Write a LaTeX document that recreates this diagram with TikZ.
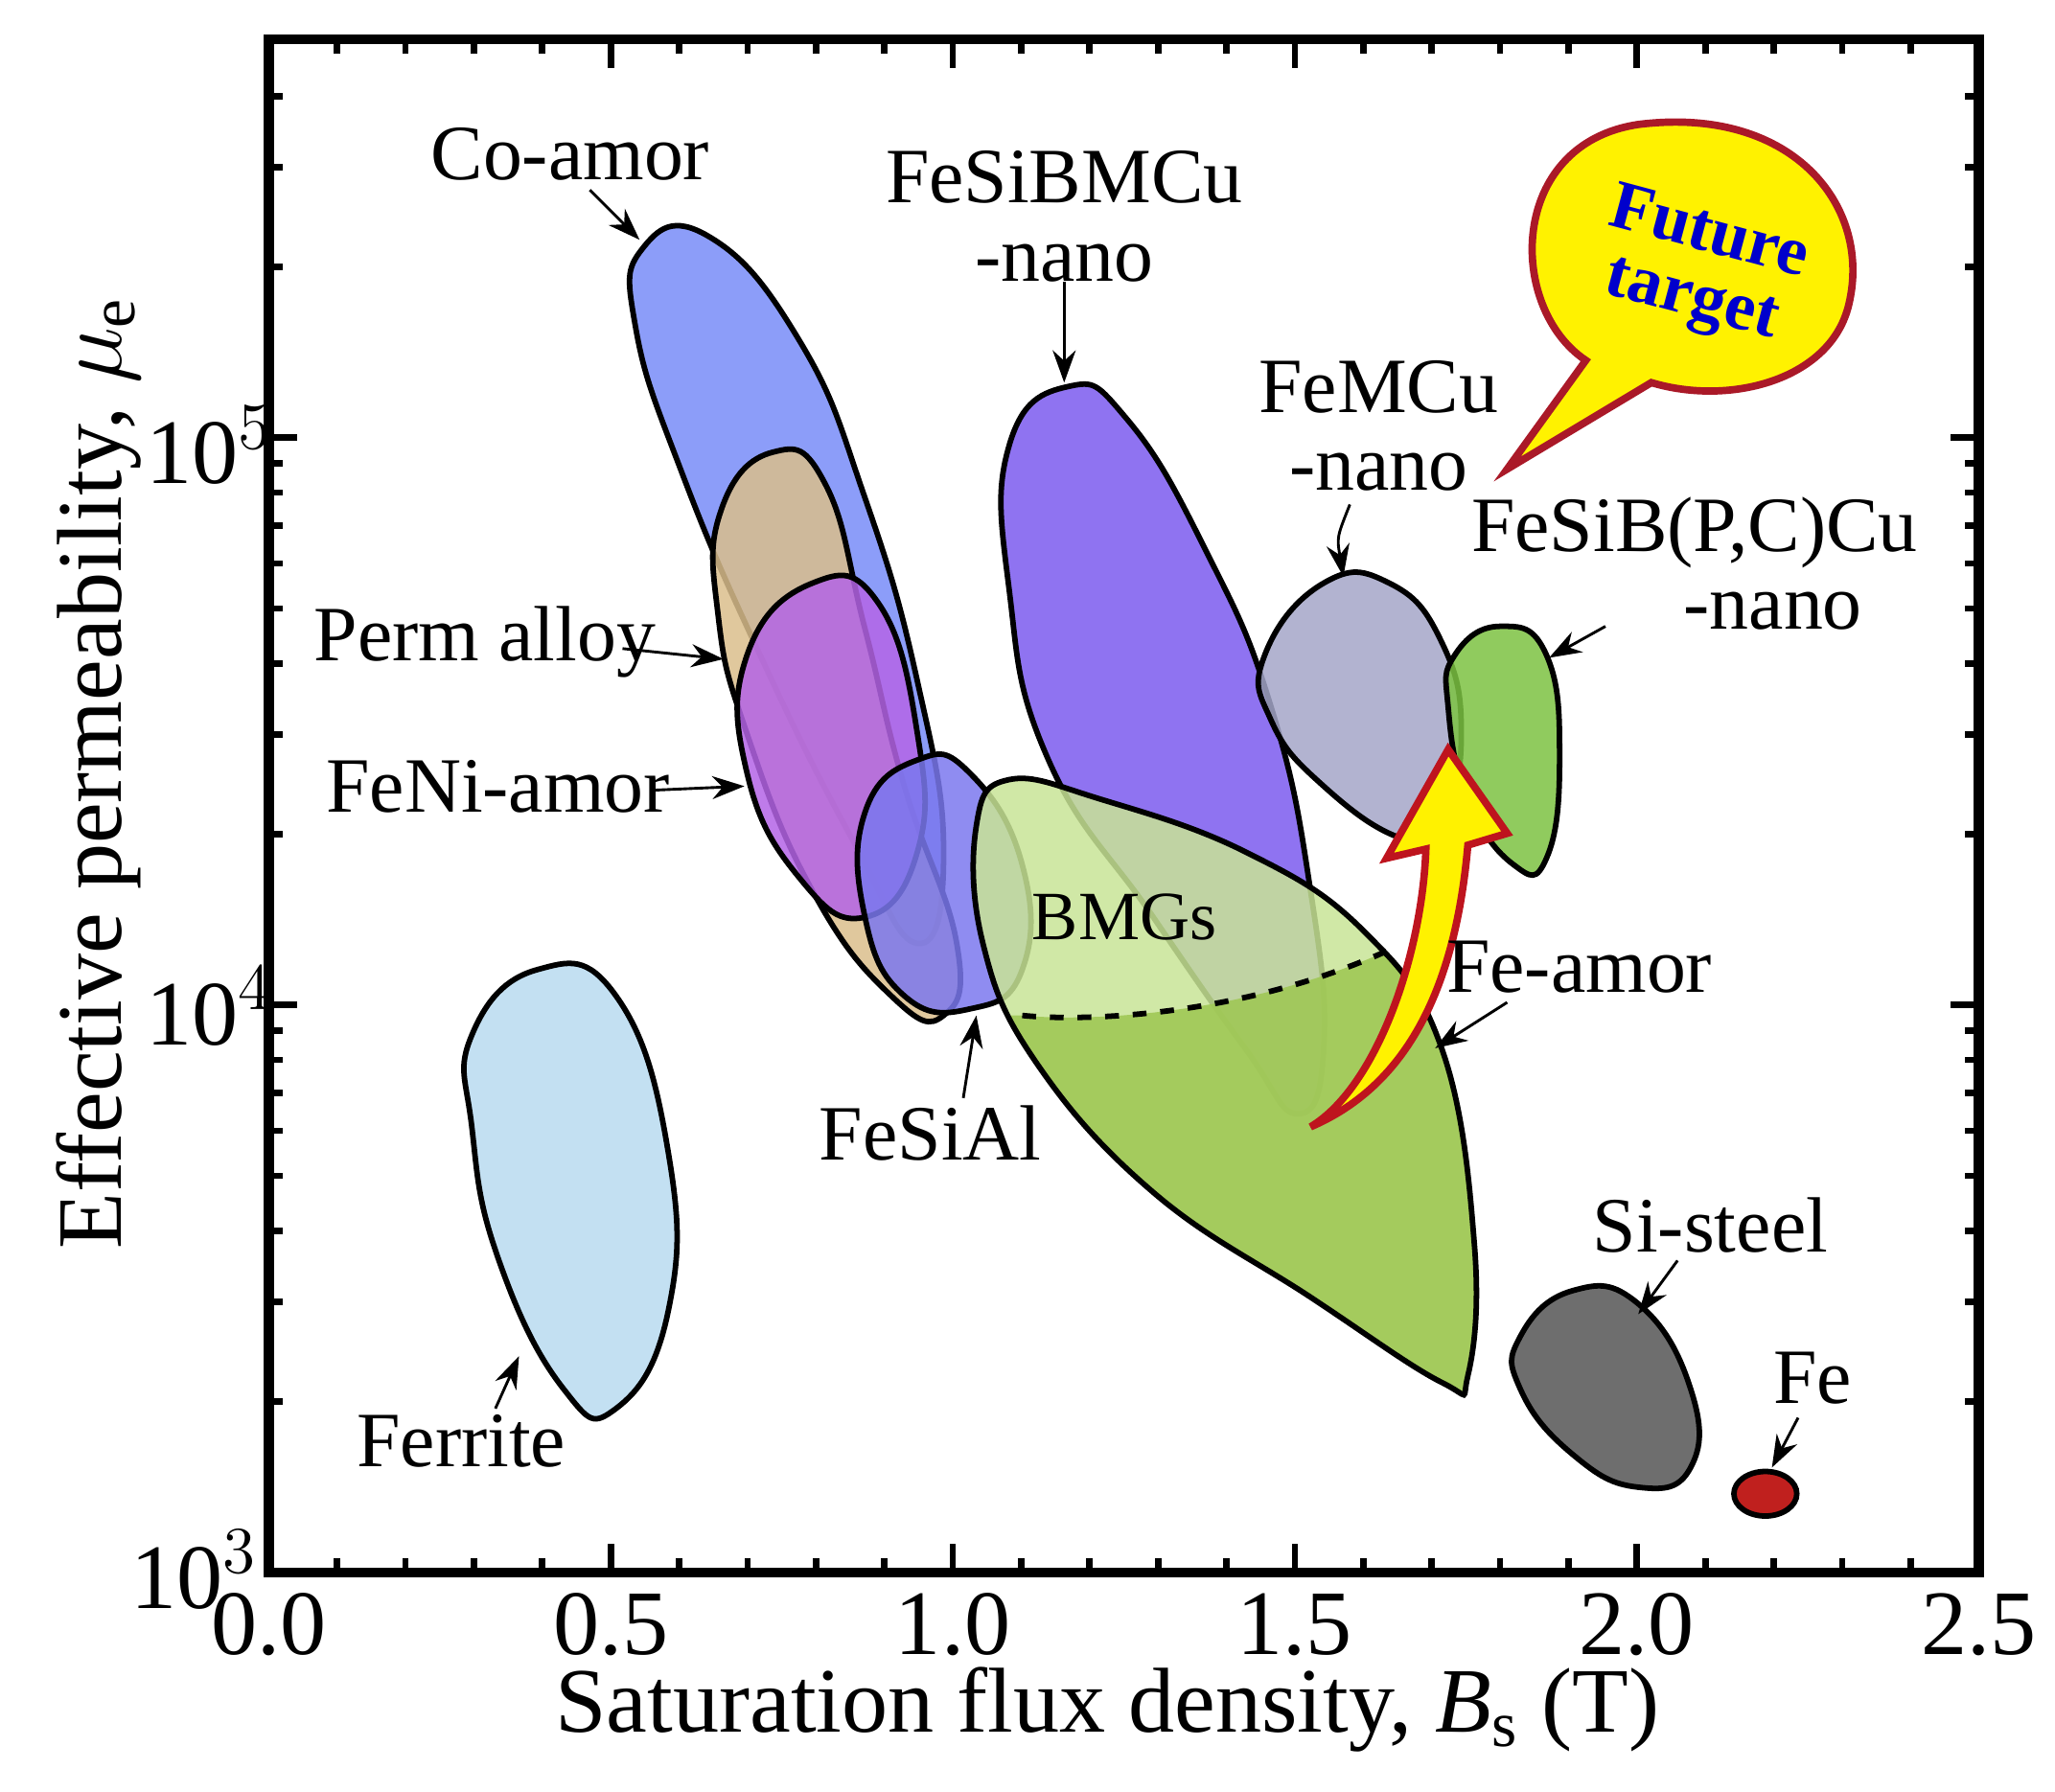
\documentclass[tikz,border=0pt]{standalone}
\usepackage{fontspec}
\setmainfont{Liberation Serif}
\usetikzlibrary{arrows.meta}
\begin{document}
\begin{tikzpicture}[x=0.01cm,y=-0.01cm,
  blob/.style={draw=black,line width=1.2pt,fill opacity=0.85},
  lab/.style={font=\fontsize{17}{17}\selectfont,inner sep=0pt},
  ptr/.style={-{Stealth[length=7pt,width=5pt]},line width=0.6pt},
  tick/.style={line width=1.4pt},
  fut/.style={rotate=-15,text=blue!80!black,font=\bfseries\fontsize{15}{17}\selectfont,inner sep=0pt}]
\useasboundingbox (0,0) rectangle (1568,1367);
% regions
\path[blob,fill={rgb,255:red,184;green,218;blue,240}] plot[smooth cycle,tension=0.8] coordinates{(360,790)(410,740)(470,760)(510,880)(510,1000)(470,1075)(430,1060)(380,960)(360,860)};
\path[blob,fill={rgb,255:red,120;green,140;blue,248}] plot[smooth cycle,tension=0.8] coordinates{(490,190)(540,180)(610,260)(660,380)(700,520)(720,650)(700,720)(650,640)(580,500)(520,360)(485,250)};
\path[blob,fill={rgb,255:red,218;green,190;blue,140}] plot[smooth cycle,tension=0.8] coordinates{(550,390)(590,345)(630,370)(660,480)(690,600)(730,720)(720,775)(680,760)(620,680)(570,560)(548,470)};
\path[blob,fill={rgb,255:red,180;green,100;blue,230}] plot[smooth cycle,tension=0.8] coordinates{(570,500)(620,445)(670,460)(700,560)(700,650)(660,700)(610,670)(570,590)};
\path[blob,fill={rgb,255:red,123;green,120;blue,238}] plot[smooth cycle,tension=0.8] coordinates{(660,620)(700,580)(740,590)(780,660)(780,740)(740,770)(690,760)(660,700)};
\path[blob,fill={rgb,255:red,123;green,91;blue,239}] plot[smooth cycle,tension=0.8] coordinates{(770,340)(815,295)(860,320)(920,420)(970,540)(1000,680)(1010,800)(990,850)(950,800)(880,700)(800,580)(770,450)};
\def\feamor{plot[smooth cycle,tension=0.7] coordinates{(745,630)(770,595)(840,610)(950,650)(1040,710)(1100,800)(1125,950)(1120,1050)(1100,1055)(1000,990)(880,910)(790,810)(750,720)}}
\path[fill={rgb,255:red,200;green,228;blue,150},fill opacity=0.85] \feamor;
\begin{scope}
\clip (700,1100) -- (700,775) -- (780,775) .. controls (830,780) and (950,775) .. (1060,725) -- (1200,700) -- (1200,1100) -- cycle;
\path[fill={rgb,255:red,160;green,200;blue,85},fill opacity=0.9] \feamor;
\end{scope}
\draw[line width=1.2pt] \feamor;
\draw[dashed,line width=1.2pt] (780,775) .. controls (830,780) and (950,775) .. (1060,725);
\path[blob,fill={rgb,255:red,164;green,166;blue,200}] plot[smooth cycle,tension=0.8] coordinates{(965,500)(1010,445)(1060,445)(1100,490)(1115,560)(1100,630)(1070,640)(1010,600)(970,550)};
\path[blob,fill={rgb,255:red,124;green,194;blue,66}] plot[smooth cycle,tension=0.8] coordinates{(1110,500)(1145,478)(1180,500)(1190,580)(1180,655)(1155,660)(1120,610)(1105,540)};
\path[blob,fill={rgb,255:red,85;green,85;blue,85}] plot[smooth cycle,tension=0.8] coordinates{(1160,1020)(1200,985)(1250,995)(1290,1060)(1290,1120)(1250,1135)(1200,1110)(1160,1060)};
\draw[line width=1.2pt,fill={rgb,255:red,192;green,32;blue,30}] (1347,1140) ellipse [x radius=24,y radius=17];
% yellow arrow
\draw[line width=1.6pt,draw={rgb,255:red,190;green,20;blue,30},fill=yellow] (1000,860) .. controls (1050,830) and (1085,730) .. (1088,648) -- (1058,655) -- (1105,572) -- (1150,636) -- (1120,645) .. controls (1110,760) and (1070,830) .. (1000,860) -- cycle;
% bubble
\draw[line width=1.6pt,draw={rgb,255:red,170;green,25;blue,40},fill=yellow] (1150,358) -- (1210,275) .. controls (1150,235) and (1150,110) .. (1250,95) .. controls (1370,80) and (1430,160) .. (1410,235) .. controls (1395,290) and (1320,310) .. (1260,292) -- cycle;
\node[fut] (ft1) at (1305,175) {Future};
\node[fut] (ft2) at (1290,232) {target};
% frame and ticks
\draw[line width=2.2pt] (205,30) rectangle (1510,1200);
\foreach \i in {0,...,25}{
  \pgfmathsetmacro\xx{205+52.2*\i}
  \pgfmathsetmacro\L{mod(\i,5)==0?22:11}
  \draw[tick] (\xx,1200) -- (\xx,1200-\L);
  \draw[tick] (\xx,30) -- (\xx,30+\L);}
\foreach \d in {0,1}{\foreach \m in {1,...,9}{
  \pgfmathsetmacro\yy{1200-433*(\d+log10(\m))}
  \pgfmathsetmacro\L{\m==1?22:11}
  \draw[tick] (205,\yy) -- (205+\L,\yy);
  \draw[tick] (1510,\yy) -- (1510-\L,\yy);}}
\foreach \m in {1,...,6}{
  \pgfmathsetmacro\yy{1200-433*(2+log10(\m))}
  \pgfmathsetmacro\L{\m==1?22:11}
  \draw[tick] (205,\yy) -- (205+\L,\yy);
  \draw[tick] (1510,\yy) -- (1510-\L,\yy);}
% tick labels
\begin{scope}[every node/.style={font=\fontsize{20}{20}\selectfont,inner sep=0pt}]
\foreach \v/\x in {0.0/205,0.5/466,1.0/727,1.5/988,2.0/1249,2.5/1510}
  \node (tx\x) at (\x,1240) {\v};
\node (ty3) at (148,1198) {10$^3$};
\node (ty4) at (160,768) {10$^4$};
\node (ty5) at (160,340) {10$^5$};
\node (xl) at (845,1305) {Saturation flux density, \textit{B}$_\mathrm{s}$ (T)};
\node[rotate=90] (yl) at (75,590) {Effective permeability, $\mu_\mathrm{e}$};
\end{scope}
% labels
\node[lab] (co) at (435,118) {Co-amor};
\draw[ptr] (450,145) -- (488,183);
\node[lab,align=center] (fsb) at (812,165) {FeSiBMCu\\-nano};
\draw[ptr] (812,215) -- (812,292);
\node[lab,align=center] (fmc) at (1052,325) {FeMCu\\-nano};
\draw[ptr] (1030,385) .. controls (1020,410) .. (1025,440);
\node[lab,align=center] (fsp) at (1293,430) {FeSiB(P,C)Cu\\\hspace*{2em}-nano};
\draw[ptr] (1225,478) -- (1182,502);
\node[lab] (pa) at (370,490) {Perm alloy};
\draw[ptr] (475,495) -- (552,503);
\node[lab] (fn) at (380,600) {FeNi-amor};
\draw[ptr] (500,603) -- (568,600);
\node[lab,font=\fontsize{15}{15}\selectfont] (bm) at (858,700) {BMGs};
\node[lab] (fa) at (1205,738) {Fe-amor};
\draw[ptr] (1150,765) -- (1095,800);
\node[lab] (fsa) at (710,865) {FeSiAl};
\draw[ptr] (735,838) -- (745,775);
\node[lab] (fe) at (352,1100) {Ferrite};
\draw[ptr] (378,1075) -- (396,1035);
\node[lab] (ss) at (1305,935) {Si-steel};
\draw[ptr] (1280,962) -- (1250,1003);
\node[lab] (fel) at (1383,1052) {Fe};
\draw[ptr] (1372,1082) -- (1352,1120);
\end{tikzpicture}
\end{document}
